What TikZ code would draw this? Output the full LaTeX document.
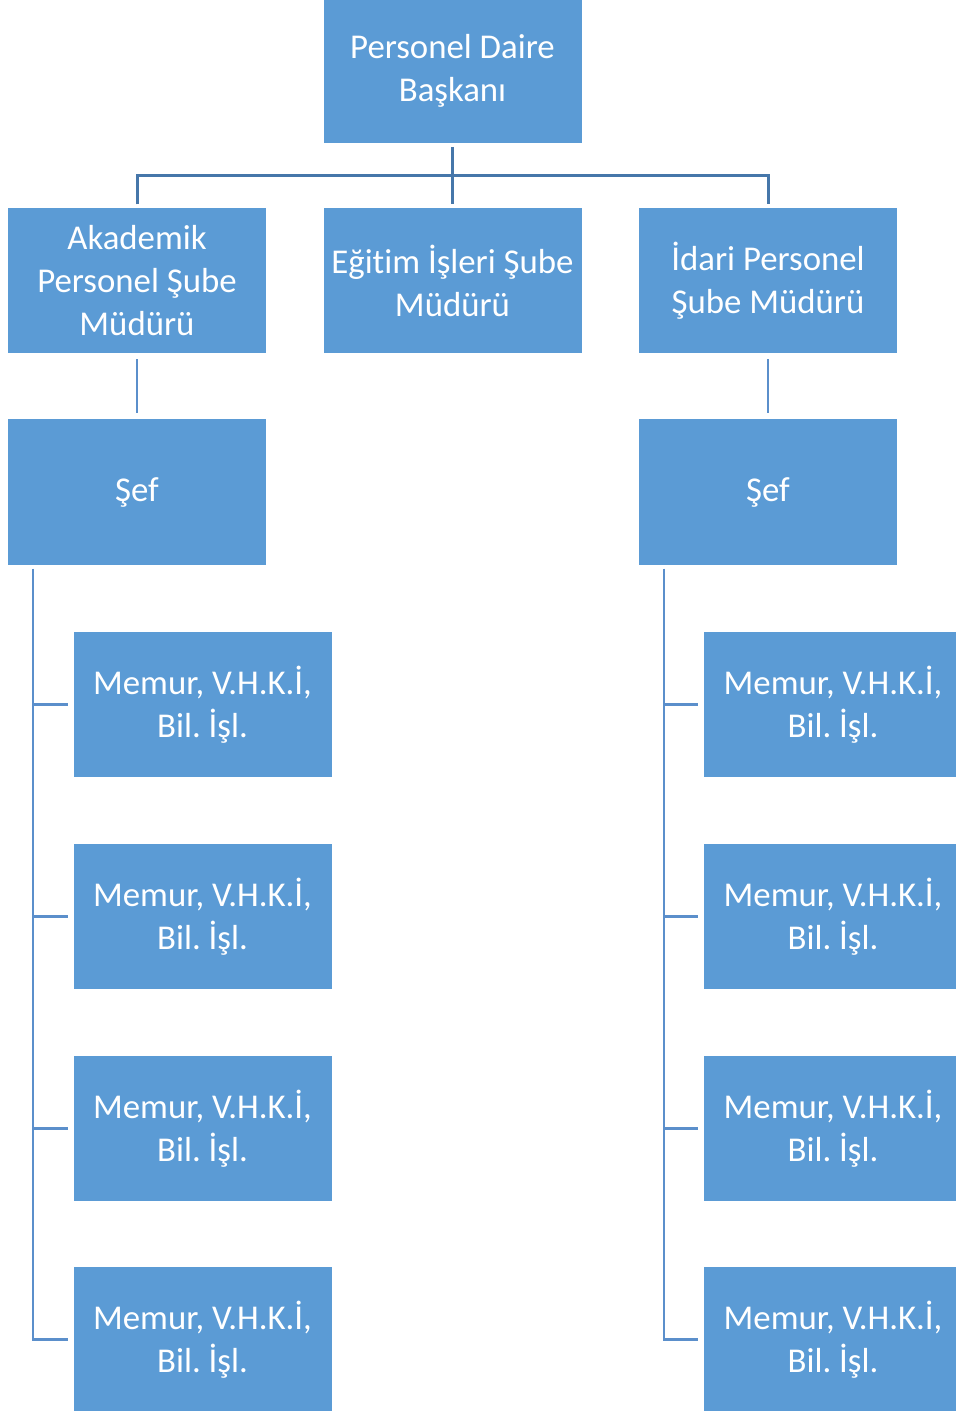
\documentclass[tikz,border=0pt]{standalone}
\usepackage{fontspec}
\setmainfont[Ligatures={NoCommon}]{Carlito}
\usetikzlibrary{positioning, calc}
\definecolor{boxblue}{HTML}{5B9BD5}
\definecolor{topline}{HTML}{4677AA}
\definecolor{subline}{HTML}{5B8FCB}
\tikzset{>=stealth}
\tikzset{
	orgbox/.style={fill=boxblue, draw=none, text=white, align=center, minimum width=129pt, minimum height=72.5pt, inner sep=0pt, outer sep=0pt, font=\fontsize{17.4}{21.5}\selectfont},
	mainconn/.style={topline, line width=1.5pt, shorten <=2pt, shorten >=2pt},
	subconn/.style={subline, line width=1.2pt}
}
\frenchspacing
\begin{document}
\begin{tikzpicture}[x=0.5pt, y=-0.5pt]
	\useasboundingbox (0,0) rectangle (955,1411);

	\node [orgbox] (baskan) at (452.5,70.5) {Personel Daire\\Başkanı};

	\node [orgbox] (akademik) at (137,281) {Akademik\\Personel Şube\\Müdürü};
	\node [orgbox] (egitim) at (452.5,281) {Eğitim İşleri Şube\\Müdürü};
	\node [orgbox] (idari) at (768,281) {İdari Personel\\Şube Müdürü};

	\node [orgbox] (sefA) at (137,492) {Şef};
	\node [orgbox] (sefI) at (768,492) {Şef};

	% memur kutulari
	\foreach \i/\y in {1/704.5, 2/916.5, 3/1128.5, 4/1339.5} {
		\node [orgbox] (mA\i) at (202.5,\y) {Memur, V.H.K.İ,\\Bil. İşl.};
		\node [orgbox] (mI\i) at (833,\y) {Memur, V.H.K.İ,\\Bil. İşl.};
	}

	\draw [mainconn] (baskan) -- (egitim);
	\draw [mainconn] (akademik.north) -- ++(0,-33) -| (idari.north);

	\draw [subconn, shorten <=3pt, shorten >=3pt] (akademik) -- (sefA);
	\draw [subconn, shorten <=3pt, shorten >=3pt] (idari) -- (sefI);

	\coordinate (barA) at ($(sefA.south west)+(25,4)$);
	\coordinate (barI) at ($(sefI.south west)+(25,4)$);
	\draw [subconn, shorten >=3pt] (barA) |- (mA4.west);
	\draw [subconn, shorten >=3pt] (barI) |- (mI4.west);
	\foreach \i in {1,2,3} {
		\draw [subconn, shorten >=3pt] (barA |- mA\i.west) -- (mA\i.west);
		\draw [subconn, shorten >=3pt] (barI |- mI\i.west) -- (mI\i.west);
	}

\end{tikzpicture}
\end{document}
